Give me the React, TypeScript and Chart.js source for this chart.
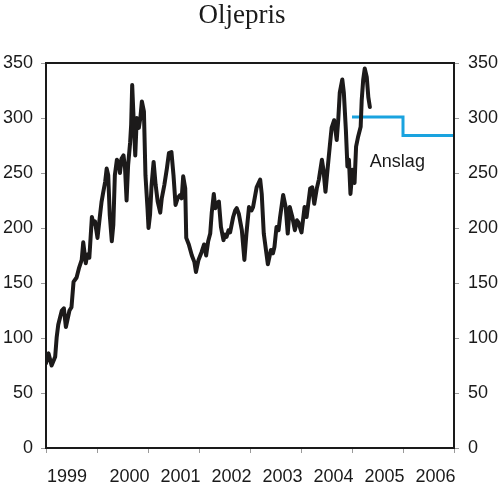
import React, { useEffect, useRef } from 'react';
import { Chart, registerables } from 'chart.js';

Chart.register(...registerables);

// Oil price, NOK per barrel (decimal year, value)
const priceYears = [
  1999.00, 1999.05, 1999.11, 1999.18, 1999.21, 1999.24, 1999.31, 1999.35, 1999.39, 1999.46,
  1999.50, 1999.54, 1999.60, 1999.65, 1999.70, 1999.73, 1999.78, 1999.81, 1999.85, 1999.90,
  1999.93, 1999.96,
  2000.01, 2000.06, 2000.09, 2000.12, 2000.16, 2000.19, 2000.22, 2000.25, 2000.29, 2000.32,
  2000.35, 2000.39, 2000.43, 2000.45, 2000.48, 2000.52, 2000.55, 2000.58, 2000.61, 2000.65,
  2000.67, 2000.69, 2000.72, 2000.75, 2000.78, 2000.82, 2000.85, 2000.88, 2000.92, 2000.95,
  2000.99, 2001.01, 2001.04, 2001.07, 2001.11, 2001.15, 2001.19, 2001.24, 2001.27, 2001.32,
  2001.37, 2001.41, 2001.46, 2001.50, 2001.54, 2001.58, 2001.63, 2001.66, 2001.69, 2001.73,
  2001.75, 2001.80, 2001.86, 2001.91, 2001.94, 2001.99, 2002.05, 2002.10, 2002.14, 2002.18,
  2002.22, 2002.25, 2002.29, 2002.32, 2002.34, 2002.39, 2002.43, 2002.48, 2002.51, 2002.54,
  2002.58, 2002.61, 2002.67, 2002.71, 2002.74, 2002.78, 2002.84, 2002.89, 2002.93, 2002.98,
  2003.03, 2003.06, 2003.13, 2003.20, 2003.23, 2003.27, 2003.35, 2003.41, 2003.45, 2003.48,
  2003.52, 2003.56, 2003.59, 2003.65, 2003.70, 2003.74, 2003.78, 2003.83, 2003.88, 2003.92,
  2003.95, 2004.01, 2004.07, 2004.11, 2004.18, 2004.22, 2004.26, 2004.31, 2004.35, 2004.41,
  2004.44, 2004.48, 2004.52, 2004.57, 2004.60, 2004.65, 2004.70, 2004.73, 2004.76, 2004.81,
  2004.84, 2004.88, 2004.91, 2004.94, 2004.97, 2005.01, 2005.05, 2005.08, 2005.12, 2005.17,
  2005.19, 2005.22, 2005.25, 2005.29, 2005.32, 2005.35,
];
const priceValues = [
  77, 86, 75, 83, 101, 112, 125, 127, 110, 125,
  128, 151, 155, 164, 171, 187, 168, 176, 173, 210,
  204, 206,
  191, 212, 224, 232, 242, 254, 248, 212, 188, 203,
  248, 262, 259, 250, 263, 266, 254, 225, 257, 278,
  294, 330, 297, 266, 300, 291, 300, 315, 306, 248,
  218, 200, 212, 239, 260, 239, 224, 214, 227, 239,
  254, 268, 269, 248, 221, 227, 230, 227, 247, 236,
  191, 185, 175, 169, 160, 171, 178, 185, 175, 188,
  195, 214, 231, 218, 222, 224, 201, 189, 194, 192,
  198, 196, 210, 216, 218, 213, 198, 171, 195, 219,
  216, 219, 237, 244, 231, 195, 167, 180, 177, 183,
  201, 198, 210, 230, 219, 195, 219, 210, 198, 207,
  205, 196, 219, 210, 236, 237, 222, 236, 244, 262,
  253, 233, 253, 277, 291, 298, 280, 298, 323, 335,
  323, 289, 256, 262, 231, 253, 241, 274, 283, 292,
  316, 335, 345, 337, 319, 310,
];

// Forecast ("Anslag"), step per year
const forecastYears = [2005, 2006, 2007];
const forecastValues = [301, 284, 284];

const yearLabels = ['1999', '2000', '2001', '2002', '2003', '2004', '2005', '2006'];
const yMin = 0;
const yMax = 350;
const yStep = 50;

const titleText = 'Oljepris';
const forecastLabel = 'Anslag';
const forecastLabelAt = { x: 2005.35, y: 260 };

const SANS = '"Liberation Sans", Arial, Helvetica, sans-serif';
const SERIF = '"Liberation Serif", "Times New Roman", serif';
const INK = '#1a1a1a';

const decorPlugin = {
  id: 'decor',
  afterDraw(chart: any) {
    const { ctx, chartArea, scales } = chart;
    ctx.save();
    // frame
    ctx.strokeStyle = INK;
    ctx.lineWidth = 2;
    ctx.strokeRect(chartArea.left, chartArea.top, chartArea.right - chartArea.left, chartArea.bottom - chartArea.top);

    // title
    ctx.fillStyle = INK;
    ctx.font = `27px ${SERIF}`;
    ctx.textAlign = 'center';
    ctx.textBaseline = 'alphabetic';
    ctx.fillText(titleText, 242, 23);

    // x labels
    ctx.font = `18px ${SANS}`;
    ctx.textBaseline = 'middle';
    yearLabels.forEach((lab, i) => {
      const yr = Number(lab);
      if (i === 0) {
        ctx.textAlign = 'left';
        ctx.fillText(lab, chartArea.left + 1, chartArea.bottom + 29);
      } else {
        ctx.textAlign = 'center';
        const px = (scales.x.getPixelForValue(yr) + scales.x.getPixelForValue(yr + 1)) / 2 + 7;
        ctx.fillText(lab, px, chartArea.bottom + 29);
      }
    });

    // forecast label
    ctx.textAlign = 'left';
    ctx.fillText(forecastLabel, scales.x.getPixelForValue(forecastLabelAt.x), scales.y.getPixelForValue(forecastLabelAt.y));
    ctx.restore();
  },
};

export default function App() {
  const ref = useRef<HTMLCanvasElement>(null);
  useEffect(() => {
    document.body.style.margin = '0';
    const yAxis = (position: 'left' | 'right') => ({
      type: 'linear' as const,
      position,
      min: yMin,
      max: yMax,
      ticks: {
        stepSize: yStep,
        color: INK,
        padding: position === 'left' ? 8 : 9,
        font: { family: SANS, size: 18 },
      },
      grid: { drawOnChartArea: false, drawTicks: true, tickLength: 5, color: '#9a9a9a', lineWidth: 1 },
      border: { display: false },
      afterFit: (s: any) => { s.width = 46; },
    });
    const chart = new Chart(ref.current!, {
      type: 'line',
      data: {
        datasets: [
          {
            data: priceYears.map((x, i) => ({ x, y: priceValues[i] })),
            borderColor: '#1c1a1a',
            borderWidth: 4,
            pointRadius: 0,
            tension: 0,
            borderJoinStyle: 'round',
            borderCapStyle: 'round',
            yAxisID: 'y',
          },
          {
            data: forecastYears.map((x, i) => ({ x, y: forecastValues[i] })),
            borderColor: '#1aa3df',
            borderWidth: 3,
            pointRadius: 0,
            stepped: true,
            yAxisID: 'y',
          },
        ],
      },
      options: {
        responsive: false,
        animation: false,
        events: [],
        layout: { padding: { top: 63, left: 0, right: 0, bottom: 0 } },
        plugins: { legend: { display: false }, tooltip: { enabled: false }, title: { display: false } },
        scales: {
          x: {
            type: 'linear',
            min: 1999,
            max: 2007,
            ticks: { stepSize: 1, display: false },
            grid: { drawOnChartArea: false, drawTicks: true, tickLength: 5, color: '#9a9a9a', lineWidth: 1 },
            border: { display: false },
            afterFit: (s: any) => { s.height = 42; },
          },
          y: yAxis('left'),
          y2: yAxis('right'),
        },
      } as any,
      plugins: [decorPlugin],
    });
    return () => chart.destroy();
  }, []);
  return <canvas ref={ref} width={500} height={490} style={{ display: 'block' }} />;
}
